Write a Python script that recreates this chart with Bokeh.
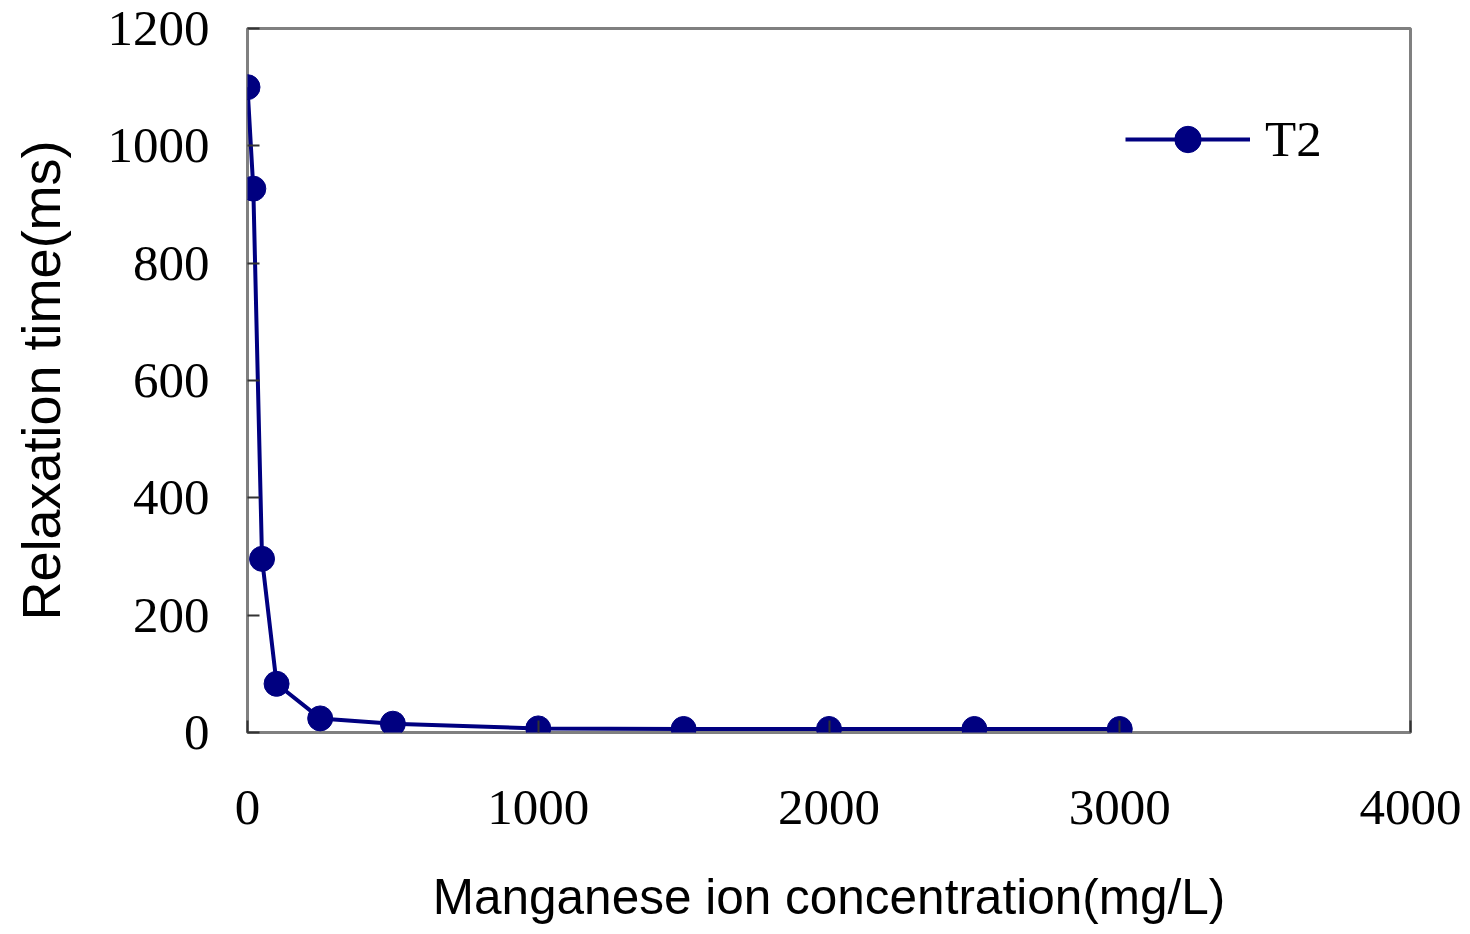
from bokeh.plotting import figure
from bokeh.models import Range1d, FixedTicker, Legend, LegendItem, ColumnDataSource
from bokeh.embed import file_html
from bokeh.resources import INLINE

concentration = [0, 20, 50, 100, 250, 500, 1000, 1500, 2000, 2500, 3000]
t2 = [1100, 927, 296, 83, 24, 15, 7, 6, 6, 6, 6]
x_ticks = [0, 1000, 2000, 3000, 4000]
y_ticks = [0, 200, 400, 600, 800, 1000, 1200]
series_name = "T2"
x_label = "Manganese ion concentration(mg/L)"
y_label = "Relaxation time(ms)"

src = ColumnDataSource(dict(x=concentration, y=t2))

p = figure(width=1462, height=926, output_backend="svg", toolbar_location=None,
           x_range=Range1d(0, 4000), y_range=Range1d(0, 1200),
           min_border_left=247, min_border_right=52, min_border_top=28, min_border_bottom=191)
p.background_fill_color = "white"
p.border_fill_color = "white"
p.outline_line_color = "#808080"
p.outline_line_width = 3
p.grid.visible = False

navy = "#000080"
r_line = p.line("x", "y", source=src, line_color=navy, line_width=4)
r_pts = p.scatter("x", "y", source=src, size=25, fill_color=navy, line_color=navy)

for ax, ticks in ((p.xaxis[0], x_ticks), (p.yaxis[0], y_ticks)):
    ax.ticker = FixedTicker(ticks=ticks)
    ax.axis_line_color = None
    ax.major_tick_in = 12
    ax.major_tick_out = 0
    ax.major_tick_line_color = "#333333"
    ax.major_tick_line_width = 2
    ax.minor_tick_line_color = None
    ax.major_label_text_font = "Liberation Serif"
    ax.major_label_text_font_size = "51px"
    ax.major_label_text_color = "black"
    ax.axis_label_text_font = "Liberation Sans"
    ax.axis_label_text_font_style = "normal"
    ax.axis_label_text_color = "black"

p.xaxis.axis_label = x_label
p.yaxis.axis_label = y_label
p.xaxis.axis_label_text_font_size = "49.5px"
p.yaxis.axis_label_text_font_size = "54px"
p.xaxis.major_label_standoff = 58
p.yaxis.major_label_standoff = 38
p.xaxis.axis_label_standoff = 42
p.yaxis.axis_label_standoff = 34

legend = Legend(items=[LegendItem(label=series_name, renderers=[r_line, r_pts])],
                location=(878, 560), border_line_color=None, background_fill_alpha=0,
                padding=0, margin=0, glyph_width=125, glyph_height=66, label_height=66,
                label_standoff=15, label_text_font="Liberation Serif",
                label_text_font_size="51px", label_text_color="black")
p.add_layout(legend)

open("out.html", "w").write(file_html(p, INLINE))
